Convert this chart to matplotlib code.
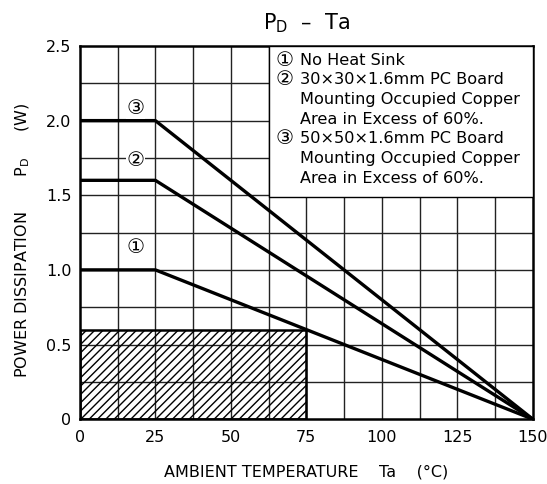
import matplotlib
matplotlib.use("Agg")
import matplotlib.pyplot as plt
from matplotlib.patches import Rectangle

plt.rcParams["font.family"] = ["DejaVu Sans", "Noto Sans CJK JP"]
plt.rcParams["hatch.linewidth"] = 1.0

# derating curves: flat to 25 C, then linear to 0 W at 150 C
ta = [0, 25, 150]
pd_1 = [1.0, 1.0, 0.0]
pd_2 = [1.6, 1.6, 0.0]
pd_3 = [2.0, 2.0, 0.0]
curve_tags = ["①", "②", "③"]
tag_pos = [(18.5, 1.15), (18.5, 1.73), (18.5, 2.08)]

# hatched safe area
hatch_ta = 75
hatch_pd = 0.6

xticks = [0, 25, 50, 75, 100, 125, 150]
xlabels = ["0", "25", "50", "75", "100", "125", "150"]
yticks = [0, 0.5, 1.0, 1.5, 2.0, 2.5]
ylabels = ["0", "0.5", "1.0", "1.5", "2.0", "2.5"]

legend_marks = ["①", "②", "", "", "③", "", ""]
legend_lines = ["No Heat Sink",
                "30×30×1.6mm PC Board",
                "Mounting Occupied Copper",
                "Area in Excess of 60%.",
                "50×50×1.6mm PC Board",
                "Mounting Occupied Copper",
                "Area in Excess of 60%."]

fig = plt.figure(figsize=(5.47, 4.84), dpi=100)
ax = fig.add_axes([0.146, 0.134, 0.828, 0.771])
ax.set_xlim(0, 150)
ax.set_ylim(0, 2.5)

# grid
for x in [12.5 * i for i in range(1, 12)]:
    ax.axvline(x, color="#222222", lw=1.0, zorder=1)
for y in [0.25 * i for i in range(1, 10)]:
    ax.axhline(y, color="#222222", lw=1.0, zorder=1)

ax.add_patch(Rectangle((0, 0), hatch_ta, hatch_pd, facecolor="none",
                       edgecolor="black", hatch="////", lw=1.8, zorder=2))

# legend box hides the grid in the upper right
ax.add_patch(Rectangle((62.5, 1.49), 87.5, 1.01, facecolor="white",
                       edgecolor="black", lw=1.0, zorder=3))
for i, (m, t) in enumerate(zip(legend_marks, legend_lines)):
    y = 2.405 - 0.132 * i
    if m:
        ax.text(64.8, y, m, ha="left", va="center", fontsize=14.5, zorder=4)
    ax.text(72.8, y, t, ha="left", va="center", fontsize=11.6, zorder=4)

for pd in (pd_1, pd_2, pd_3):
    ax.plot(ta, pd, color="black", lw=2.4, zorder=5, solid_capstyle="butt")

for tag, (x, y) in zip(curve_tags, tag_pos):
    ax.text(x, y, tag, ha="center", va="center", fontsize=14.5, zorder=6,
            bbox=dict(facecolor="white", edgecolor="none", pad=0.3))

for s in ax.spines.values():
    s.set_linewidth(1.8)
ax.set_xticks(xticks, xlabels, fontsize=11.5)
ax.set_yticks(yticks, ylabels, fontsize=11.5)
ax.tick_params(axis="x", length=0, pad=8)
ax.tick_params(axis="y", length=0, pad=6)

ax.set_xlabel("AMBIENT TEMPERATURE    Ta    (°C)", fontsize=11.5, labelpad=14)
fig.text(0.042, 0.504,
         "POWER DISSIPATION       $\\mathregular{P_D}$     (W)",
         rotation=90, ha="center", va="center", fontsize=11.5)
ax.set_title("$\\mathregular{P_D}$  –  Ta", fontsize=15, pad=12)

fig.savefig("out.png", dpi=100)
